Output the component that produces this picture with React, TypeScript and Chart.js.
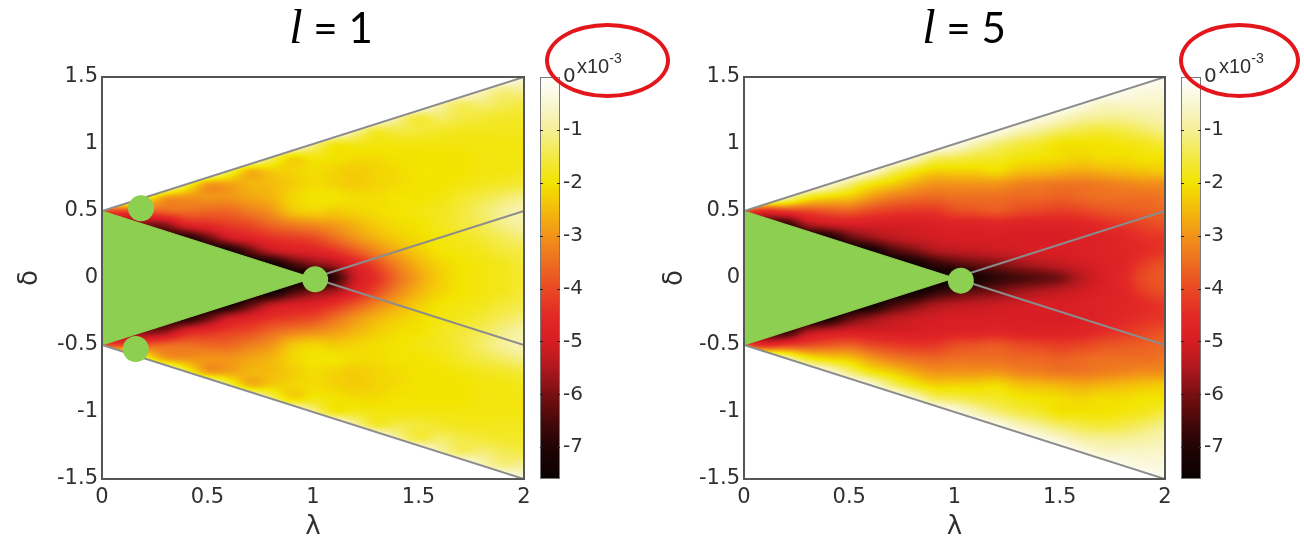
import React, { useEffect, useRef } from 'react';
import { Chart, registerables } from 'chart.js';

Chart.register(...registerables);

// ---------------- data ----------------
const L_VALUES = [1, 5];
const LAMBDA = [0, 0.1, 0.2, 0.3, 0.4, 0.5, 0.6, 0.7, 0.8, 0.9, 1.0, 1.1, 1.2, 1.3, 1.4, 1.5, 1.6, 1.7, 1.8, 1.9, 2.0];
// |δ| rows (the map is symmetric about δ = 0)
const DELTA = [0, 0.1, 0.2, 0.3, 0.4, 0.5, 0.6, 0.7, 0.8, 0.9, 1.0, 1.1, 1.2, 1.3, 1.4, 1.5];
const X_TICKS = [0, 0.5, 1, 1.5, 2];
const Y_TICKS = [-1.5, -1, -0.5, 0, 0.5, 1, 1.5];
const CB_TICKS = [0, -1, -2, -3, -4, -5, -6, -7];
const CB_MIN = -7.6;
const CB_MAX = 0;

// values in units of 1e-3; rows = DELTA, columns = LAMBDA
const VALUES_L1 = [
  [-5, -6, -6.5, -7, -7.5, -7.6, -7.6, -7.6, -7.6, -7.6, -7.6, -6.8, -5.2, -4.4, -3.5, -2.8, -2.3, -2.0, -1.9, -1.8, -1.7],
  [-5, -6, -6.5, -7, -7.5, -7.6, -7.6, -7.6, -7.5, -6.6, -6.0, -5.6, -4.8, -4.0, -3.2, -2.6, -2.2, -2.0, -1.9, -1.8, -1.6],
  [-5, -6, -6.5, -7, -7.4, -7.5, -7.3, -6.3, -5.4, -5.0, -4.8, -4.4, -3.8, -3.2, -2.7, -2.3, -2.0, -1.9, -1.8, -1.6, -1.5],
  [-5, -6, -6.5, -7, -7.0, -6.2, -5.2, -4.8, -4.4, -4.2, -4.0, -3.5, -3.0, -2.6, -2.3, -2.1, -1.9, -1.8, -1.6, -1.4, -1.2],
  [-5, -6, -6.0, -5.8, -4.8, -4.5, -4.2, -4.0, -3.6, -3.3, -3.1, -2.9, -2.6, -2.3, -2.1, -2.0, -1.8, -1.6, -1.4, -1.1, -0.9],
  [-4, -4, -3.8, -3.6, -3.5, -3.6, -3.6, -3.3, -3.0, -2.4, -2.2, -2.3, -2.2, -2.1, -2.0, -1.9, -1.8, -1.6, -1.3, -1.0, -0.8],
  [0, 0, -1.5, -2.8, -3.0, -3.0, -3.0, -2.8, -2.6, -2.2, -2.0, -2.0, -2.1, -2.1, -2.0, -2.0, -1.9, -1.7, -1.5, -1.3, -1.1],
  [0, 0, 0, 0, -1.5, -2.8, -2.8, -2.6, -2.5, -2.3, -2.1, -2.2, -2.3, -2.2, -2.1, -2.0, -2.0, -1.9, -1.8, -1.7, -1.6],
  [0, 0, 0, 0, 0, 0, -1.3, -2.5, -2.3, -2.2, -2.1, -2.2, -2.3, -2.2, -2.1, -2.0, -2.0, -2.0, -1.9, -1.9, -1.8],
  [0, 0, 0, 0, 0, 0, 0, 0, -1.2, -2.1, -1.9, -2.0, -2.1, -2.1, -2.0, -2.0, -2.0, -2.0, -1.9, -1.9, -1.9],
  [0, 0, 0, 0, 0, 0, 0, 0, 0, 0, -1.0, -1.8, -1.8, -1.9, -1.9, -1.9, -1.9, -1.9, -1.9, -1.9, -1.9],
  [0, 0, 0, 0, 0, 0, 0, 0, 0, 0, 0, 0, -0.9, -1.6, -1.5, -1.6, -1.7, -1.8, -1.8, -1.8, -1.8],
  [0, 0, 0, 0, 0, 0, 0, 0, 0, 0, 0, 0, 0, 0, -0.9, -1.5, -1.3, -1.5, -1.6, -1.7, -1.7],
  [0, 0, 0, 0, 0, 0, 0, 0, 0, 0, 0, 0, 0, 0, 0, 0, -0.8, -1.3, -1.2, -1.4, -1.5],
  [0, 0, 0, 0, 0, 0, 0, 0, 0, 0, 0, 0, 0, 0, 0, 0, 0, 0, -0.7, -1.1, -1.0],
  [0, 0, 0, 0, 0, 0, 0, 0, 0, 0, 0, 0, 0, 0, 0, 0, 0, 0, 0, 0, -0.5],
];

const VALUES_L5 = [
  [-6, -6.5, -7, -7.4, -7.5, -7.6, -7.6, -7.6, -7.6, -7.6, -7.6, -7.2, -6.8, -6.5, -6.3, -6.0, -5.4, -5.0, -4.6, -4.0, -3.8],
  [-6, -6.5, -7, -7.4, -7.5, -7.6, -7.6, -7.6, -7.5, -6.9, -6.5, -6.2, -6.0, -5.7, -5.5, -5.3, -5.1, -4.9, -4.7, -4.2, -3.9],
  [-6, -6.5, -7, -7.4, -7.5, -7.6, -7.4, -6.6, -6.1, -5.6, -5.4, -5.3, -5.2, -5.1, -5.0, -5.0, -4.9, -4.8, -4.7, -4.5, -4.3],
  [-6, -6.5, -7, -7.4, -7.2, -6.3, -5.8, -5.4, -5.2, -5.1, -5.0, -5.0, -5.0, -5.0, -5.0, -5.0, -4.9, -4.8, -4.6, -4.4, -4.3],
  [-6, -6.5, -6.8, -5.6, -5.2, -5.0, -5.0, -5.0, -5.0, -4.9, -4.8, -4.8, -4.7, -4.8, -4.8, -4.8, -4.7, -4.5, -4.3, -4.1, -3.9],
  [-4, -4.5, -4.2, -4.0, -3.8, -3.7, -4.0, -4.2, -4.3, -4.3, -4.0, -3.9, -3.8, -4.0, -4.1, -4.2, -4.1, -3.9, -3.8, -3.7, -3.6],
  [0, 0, -0.8, -1.8, -2.2, -2.4, -2.9, -3.3, -3.5, -3.6, -3.5, -3.5, -3.5, -3.6, -3.6, -3.7, -3.6, -3.5, -3.5, -3.5, -3.4],
  [0, 0, 0, 0, -0.5, -1.2, -1.9, -2.3, -2.7, -3.0, -3.0, -3.0, -3.0, -3.2, -3.3, -3.4, -3.4, -3.3, -3.2, -3.1, -3.1],
  [0, 0, 0, 0, 0, 0, -0.4, -1.2, -1.8, -2.2, -2.2, -2.2, -2.1, -2.4, -2.5, -2.6, -2.7, -2.6, -2.5, -2.4, -2.3],
  [0, 0, 0, 0, 0, 0, 0, 0, -0.5, -1.2, -1.4, -1.6, -1.7, -1.9, -2.0, -2.1, -2.2, -2.1, -2.1, -2.0, -2.0],
  [0, 0, 0, 0, 0, 0, 0, 0, 0, 0, -0.3, -0.8, -1.2, -1.5, -1.7, -2.0, -2.0, -2.0, -1.9, -1.8, -1.6],
  [0, 0, 0, 0, 0, 0, 0, 0, 0, 0, 0, 0, -0.3, -0.7, -1.0, -1.3, -1.5, -1.6, -1.5, -1.3, -1.1],
  [0, 0, 0, 0, 0, 0, 0, 0, 0, 0, 0, 0, 0, 0, -0.3, -0.6, -0.9, -1.0, -1.0, -0.9, -0.8],
  [0, 0, 0, 0, 0, 0, 0, 0, 0, 0, 0, 0, 0, 0, 0, 0, -0.3, -0.6, -0.6, -0.6, -0.6],
  [0, 0, 0, 0, 0, 0, 0, 0, 0, 0, 0, 0, 0, 0, 0, 0, 0, 0, -0.2, -0.4, -0.4],
  [0, 0, 0, 0, 0, 0, 0, 0, 0, 0, 0, 0, 0, 0, 0, 0, 0, 0, 0, 0, -0.2],
];

const TRIANGLE = [{ x: 0, y: 0.5 }, { x: 1, y: 0 }, { x: 0, y: -0.5 }, { x: 0, y: 0.5 }];
const OUTER_UP = [{ x: 0, y: 0.5 }, { x: 2, y: 1.5 }];
const OUTER_DOWN = [{ x: 0, y: -0.5 }, { x: 2, y: -1.5 }];
const INNER_UP = [{ x: 1, y: 0 }, { x: 2, y: 0.5 }];
const INNER_DOWN = [{ x: 1, y: 0 }, { x: 2, y: -0.5 }];
const DOTS_L1 = [{ x: 0.185, y: 0.52 }, { x: 1.01, y: -0.01 }, { x: 0.16, y: -0.53 }];
const DOTS_L5 = [{ x: 1.03, y: -0.02 }];

// ---------------- styles ----------------
const GREEN = '#8dcf50';
const GRAY = '#8c8c8c';
const FRAME = '#555555';
const TEXT = '#303030';
const CMAP_STOPS = [0, -0.5, -1, -1.5, -2, -2.5, -3, -3.5, -4, -4.5, -5, -5.5, -6, -6.5, -7, -7.6];
const CMAP_RGB = [
  [255, 255, 255], [250, 247, 212], [246, 240, 150], [244, 234, 70], [243, 228, 0], [244, 188, 12],
  [242, 148, 24], [238, 110, 34], [233, 74, 36], [227, 42, 38], [216, 30, 36], [176, 24, 30],
  [122, 16, 18], [72, 9, 10], [34, 4, 4], [10, 2, 2],
];

function colorFor(v: number): number[] {
  if (v >= CMAP_STOPS[0]) return CMAP_RGB[0];
  for (let k = 0; k < CMAP_STOPS.length - 1; k++) {
    const a = CMAP_STOPS[k], b = CMAP_STOPS[k + 1];
    if (v <= a && v >= b) {
      const t = (a - v) / (a - b);
      const c0 = CMAP_RGB[k], c1 = CMAP_RGB[k + 1];
      return [c0[0] + (c1[0] - c0[0]) * t, c0[1] + (c1[1] - c0[1]) * t, c0[2] + (c1[2] - c0[2]) * t];
    }
  }
  return CMAP_RGB[CMAP_RGB.length - 1];
}

function locate(arr: number[], v: number): [number, number] {
  let k = 0;
  while (k < arr.length - 2 && v > arr[k + 1]) k++;
  let t = (v - arr[k]) / (arr[k + 1] - arr[k]);
  t = Math.max(0, Math.min(1, t));
  return [k, t];
}

// Catmull-Rom smoothing between the read grid samples (display shading only)
function cr(p0: number, p1: number, p2: number, p3: number, t: number) {
  return p1 + 0.5 * t * (p2 - p0 + t * (2 * p0 - 5 * p1 + 4 * p2 - p3 + t * (3 * (p1 - p2) + p3 - p0)));
}

function outerBound(l: number) {
  const a = OUTER_UP[0], b = OUTER_UP[1];
  return a.y + ((b.y - a.y) * (l - a.x)) / (b.x - a.x);
}

function makePlugin(values: number[][], cbGap: number, cbWidth: number) {
  const nR = values.length, nC = values[0].length;
  const rowAt = (i: number) => values[i < 0 ? -i : Math.min(i, nR - 1)];
  const ci = (i: number) => Math.max(0, Math.min(nC - 1, i));
  return {
    id: 'heatmap',
    beforeDatasetsDraw(chart: any) {
      const { ctx, chartArea: ca, scales } = chart;
      const xs = scales.x, ys = scales.y;
      const w = Math.round(ca.right - ca.left), h = Math.round(ca.bottom - ca.top);
      const off = document.createElement('canvas');
      off.width = w; off.height = h;
      const octx = off.getContext('2d')!;
      const img = octx.createImageData(w, h);
      const lam: number[] = [], lk: [number, number][] = [];
      for (let i = 0; i < w; i++) {
        const l = xs.getValueForPixel(ca.left + i + 0.5);
        lam.push(l);
        lk.push(locate(LAMBDA, l));
      }
      const rv = [0, 0, 0, 0];
      for (let j = 0; j < h; j++) {
        const d = Math.abs(ys.getValueForPixel(ca.top + j + 0.5));
        const [dk, dt] = locate(DELTA, d);
        const rows = [rowAt(dk - 1), rowAt(dk), rowAt(dk + 1), rowAt(dk + 2)];
        for (let i = 0; i < w; i++) {
          const l = lam[i];
          if (d > outerBound(l)) continue;
          const [k, t] = lk[i];
          const a = ci(k - 1), b = k, c = ci(k + 1), e = ci(k + 2);
          for (let r = 0; r < 4; r++) {
            const row = rows[r];
            rv[r] = cr(row[a], row[b], row[c], row[e], t);
          }
          let v = cr(rv[0], rv[1], rv[2], rv[3], dt);
          v = Math.max(CB_MIN, Math.min(CB_MAX, v));
          const col = colorFor(v);
          const p = (j * w + i) * 4;
          img.data[p] = col[0]; img.data[p + 1] = col[1]; img.data[p + 2] = col[2]; img.data[p + 3] = 255;
        }
      }
      octx.putImageData(img, 0, 0);
      ctx.drawImage(off, ca.left, ca.top);
    },
    afterDraw(chart: any) {
      const { ctx, chartArea: ca, scales } = chart;
      const cb = scales.cb;
      ctx.save();
      ctx.strokeStyle = FRAME;
      ctx.lineWidth = 2;
      ctx.strokeRect(ca.left, ca.top, ca.right - ca.left, ca.bottom - ca.top);
      const x0 = Math.round(ca.right + cbGap);
      const top = Math.round(cb.getPixelForValue(CB_MAX));
      const bot = Math.round(cb.getPixelForValue(CB_MIN));
      for (let py = top; py < bot; py++) {
        const c = colorFor(cb.getValueForPixel(py + 0.5));
        ctx.fillStyle = `rgb(${c[0] | 0},${c[1] | 0},${c[2] | 0})`;
        ctx.fillRect(x0, py, cbWidth, 1);
      }
      ctx.strokeStyle = '#7a7a7a';
      ctx.lineWidth = 1;
      ctx.strokeRect(x0 + 0.5, top + 0.5, cbWidth - 1, bot - top - 1);
      ctx.strokeStyle = '#222';
      CB_TICKS.forEach((v) => {
        if (v === CB_MAX) return;
        const y = Math.round(cb.getPixelForValue(v)) + 0.5;
        ctx.beginPath();
        ctx.moveTo(x0, y); ctx.lineTo(x0 + 3, y);
        ctx.moveTo(x0 + cbWidth - 3, y); ctx.lineTo(x0 + cbWidth, y);
        ctx.stroke();
      });
      ctx.restore();
    },
  };
}

const PANELS = [
  { values: VALUES_L1, dots: DOTS_L1, left: 0, width: 650, yAxisWidth: 102, cbAxisWidth: 126, yTitlePad: 17 },
  { values: VALUES_L5, dots: DOTS_L5, left: 650, width: 654, yAxisWidth: 94, cbAxisWidth: 139, yTitlePad: 12 },
];

const TICK_FONT = { family: 'DejaVu Sans', size: 21 };
const CB_FONT = { family: 'DejaVu Sans', size: 20 };
const AXIS_FONT = { family: 'DejaVu Sans', size: 26, lineHeight: 1 };
const fmt = (v: any) => String(v);

function Panel({ index }: { index: number }) {
  const ref = useRef<HTMLCanvasElement>(null);
  const p = PANELS[index];
  useEffect(() => {
    const cbGap = 16, cbWidth = 20;
    const lineDs = (data: any[]) => ({
      type: 'line', data, borderColor: GRAY, borderWidth: 2, pointRadius: 0, fill: false,
      tension: 0, xAxisID: 'x', yAxisID: 'y', order: 2,
    });
    const chart = new Chart(ref.current!, {
      type: 'scatter',
      data: {
        datasets: [
          { type: 'scatter', data: p.dots, pointRadius: 13, pointHoverRadius: 13, backgroundColor: GREEN,
            borderWidth: 0, xAxisID: 'x', yAxisID: 'y', order: 0 } as any,
          lineDs(OUTER_UP), lineDs(OUTER_DOWN), lineDs(INNER_UP), lineDs(INNER_DOWN),
          { type: 'line', data: TRIANGLE, borderColor: GREEN, borderWidth: 1, backgroundColor: GREEN,
            fill: 'shape', pointRadius: 0, tension: 0, xAxisID: 'x', yAxisID: 'y', order: 3 } as any,
        ],
      },
      options: {
        responsive: false,
        animation: false,
        events: [],
        layout: { padding: { top: 77, left: 0, right: 0, bottom: 0 } },
        plugins: { legend: { display: false }, tooltip: { enabled: false } },
        scales: {
          x: {
            type: 'linear', position: 'bottom', min: 0, max: 2,
            afterBuildTicks: (s: any) => { s.ticks = X_TICKS.map((v) => ({ value: v })); },
            afterFit: (s: any) => { s.height = 61; },
            grid: { display: false, drawTicks: false },
            border: { display: false },
            ticks: { font: TICK_FONT, color: TEXT, padding: 6, maxRotation: 0, autoSkip: false, callback: fmt },
            title: { display: true, text: 'λ', font: AXIS_FONT, color: TEXT, padding: { top: 0, bottom: 0 } },
          },
          y: {
            type: 'linear', position: 'left', min: -1.5, max: 1.5,
            afterBuildTicks: (s: any) => { s.ticks = Y_TICKS.map((v) => ({ value: v })); },
            afterFit: (s: any) => { s.width = p.yAxisWidth; },
            grid: { display: false, drawTicks: false },
            border: { display: false },
            ticks: { font: TICK_FONT, color: TEXT, padding: 4, autoSkip: false, callback: fmt },
            title: { display: true, text: 'δ', font: AXIS_FONT, color: TEXT, padding: { top: p.yTitlePad, bottom: 0 } },
          },
          cb: {
            type: 'linear', position: 'right', min: CB_MIN, max: CB_MAX,
            afterBuildTicks: (s: any) => { s.ticks = CB_TICKS.map((v) => ({ value: v })); },
            afterFit: (s: any) => { s.width = p.cbAxisWidth; },
            grid: { display: false, drawTicks: false },
            border: { display: false },
            ticks: { font: CB_FONT, color: TEXT, padding: cbGap + cbWidth + 3, autoSkip: false, callback: fmt },
          },
        },
      } as any,
      plugins: [makePlugin(p.values, cbGap, cbWidth)],
    });
    return () => chart.destroy();
  }, []);
  return (
    <canvas ref={ref} width={p.width} height={540}
      style={{ position: 'absolute', left: p.left, top: 0, width: p.width, height: 540 }} />
  );
}

function Title({ center, value }: { center: number; value: number }) {
  return (
    <div style={{ position: 'absolute', left: center - 120, top: 2, width: 240, textAlign: 'center',
      lineHeight: '50px', fontSize: 42, fontFamily: 'Lato', color: '#000', whiteSpace: 'nowrap' }}>
      <span style={{ fontFamily: 'Liberation Serif', fontStyle: 'italic', fontSize: 48 }}>l</span> = {value}
    </div>
  );
}

function Exponent({ left }: { left: number }) {
  return (
    <div style={{ position: 'absolute', left, top: 48, lineHeight: '24px', fontSize: 20,
      fontFamily: 'Liberation Sans', color: TEXT, whiteSpace: 'nowrap' }}>
      x10<sup style={{ fontSize: 14, position: 'relative', top: -2 }}>-3</sup>
    </div>
  );
}

function Ellipse({ left, width }: { left: number; width: number }) {
  return (
    <div style={{ position: 'absolute', left, top: 23, width, height: 75, boxSizing: 'border-box',
      border: '4px solid #e3161c', borderRadius: '50%' }} />
  );
}

export default function App() {
  return (
    <div style={{ position: 'absolute', left: 0, top: 0, width: 1304, height: 540, background: '#fff', overflow: 'hidden' }}>
      <Panel index={0} />
      <Panel index={1} />
      <Title center={331} value={L_VALUES[0]} />
      <Title center={964} value={L_VALUES[1]} />
      <Exponent left={577} />
      <Exponent left={1219} />
      <Ellipse left={545} width={125} />
      <Ellipse left={1179} width={121} />
    </div>
  );
}
